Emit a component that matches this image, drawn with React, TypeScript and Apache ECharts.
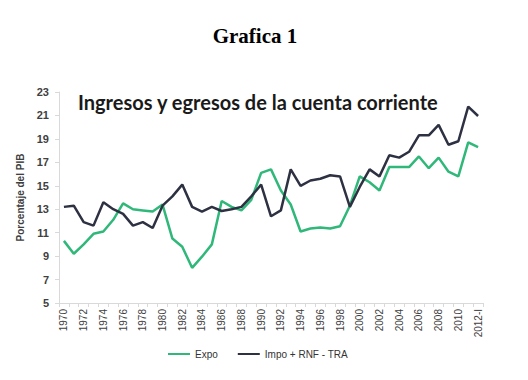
import React, { useEffect, useRef } from "react";
import * as echarts from "echarts";

const years: string[] = [
  "1970", "1971", "1972", "1973", "1974", "1975", "1976", "1977", "1978", "1979",
  "1980", "1981", "1982", "1983", "1984", "1985", "1986", "1987", "1988", "1989",
  "1990", "1991", "1992", "1993", "1994", "1995", "1996", "1997", "1998", "1999",
  "2000", "2001", "2002", "2003", "2004", "2005", "2006", "2007", "2008", "2009",
  "2010", "2011", "2012-I",
];

const expo: number[] = [
  10.3, 9.2, 10.0, 10.9, 11.1, 12.1, 13.5, 13.0, 12.9, 12.8,
  13.4, 10.5, 9.8, 8.0, 8.95, 10.0, 13.7, 13.2, 12.9, 13.8,
  16.1, 16.4, 14.6, 13.4, 11.1, 11.35, 11.45, 11.35, 11.55, 13.3,
  15.8, 15.3, 14.6, 16.6, 16.6, 16.6, 17.5, 16.5, 17.4, 16.2,
  15.8, 18.7, 18.3,
];

const impo: number[] = [
  13.2, 13.3, 11.9, 11.6, 13.6, 13.0, 12.6, 11.6, 11.9, 11.4,
  13.3, 14.1, 15.1, 13.2, 12.8, 13.2, 12.85, 13.0, 13.2, 14.1,
  15.1, 12.4, 12.9, 16.4, 15.0, 15.45, 15.6, 15.9, 15.8, 13.2,
  14.9, 16.4, 15.8, 17.6, 17.4, 17.9, 19.3, 19.3, 20.2, 18.5,
  18.8, 21.75, 20.95,
];

const seriesNames: string[] = ["Expo", "Impo + RNF - TRA"];
const pageTitle = "Grafica 1";
const chartTitle = "Ingresos y egresos de la cuenta corriente";
const yAxisName = "Porcentaje del PIB";

const GREEN = "#2fb879";
const DARK = "#2d3142";

export default function App() {
  const ref = useRef<HTMLDivElement>(null);

  useEffect(() => {
    if (!ref.current) return;
    const chart = echarts.init(ref.current, undefined, { renderer: "svg" });
    chart.setOption({
      animation: false,
      backgroundColor: "#ffffff",
      textStyle: { fontFamily: "Liberation Sans" },
      grid: {
        left: 59,
        right: 45,
        top: 92,
        bottom: 77,
        containLabel: false,
        outerBoundsMode: "none",
      },
      graphic: [
        {
          type: "text",
          x: 255,
          y: 36,
          style: {
            text: pageTitle,
            font: "bold 21px 'Liberation Serif'",
            fill: "#000000",
            align: "center",
            verticalAlign: "middle",
          },
        },
        {
          type: "text",
          x: 78,
          y: 102,
          z: 10,
          style: {
            text: chartTitle,
            font: "bold 20px Lato",
            fill: "#1a1a1a",
            align: "left",
            verticalAlign: "middle",
          },
        },
      ],
      legend: {
        left: 163,
        top: 344,
        icon: "rect",
        itemWidth: 22,
        itemHeight: 2,
        itemGap: 20,
        textStyle: { fontSize: 10, color: "#333333", fontFamily: "Liberation Sans" },
        data: seriesNames,
      },
      xAxis: {
        type: "category",
        data: years,
        boundaryGap: true,
        axisLine: { show: true, lineStyle: { color: "#d9d9d9", width: 1 } },
        axisTick: { show: true, interval: 0, length: 4, lineStyle: { color: "#d9d9d9" } },
        axisLabel: {
          interval: 1,
          rotate: 90,
          fontSize: 10,
          color: "#404040",
          margin: 6,
        },
        splitLine: { show: false },
      },
      yAxis: {
        type: "value",
        min: 5,
        max: 23,
        interval: 2,
        name: yAxisName,
        nameLocation: "middle",
        nameGap: 31,
        nameRotate: 90,
        nameTextStyle: { fontSize: 10, fontWeight: "bold", color: "#404040" },
        axisLine: { show: true, lineStyle: { color: "#d9d9d9", width: 1 } },
        axisTick: { show: true, length: 4, lineStyle: { color: "#d9d9d9" } },
        axisLabel: { fontSize: 11, fontWeight: "bold", color: "#404040", margin: 10 },
        splitLine: { show: false },
      },
      series: [
        {
          name: seriesNames[0],
          type: "line",
          data: expo,
          showSymbol: false,
          symbol: "none",
          lineStyle: { color: GREEN, width: 2.5 },
          itemStyle: { color: GREEN },
        },
        {
          name: seriesNames[1],
          type: "line",
          data: impo,
          showSymbol: false,
          symbol: "none",
          lineStyle: { color: DARK, width: 2.5 },
          itemStyle: { color: DARK },
        },
      ],
    });
    return () => chart.dispose();
  }, []);

  return (
    <div
      ref={ref}
      style={{ position: "fixed", left: 0, top: 0, width: 528, height: 380 }}
    />
  );
}
